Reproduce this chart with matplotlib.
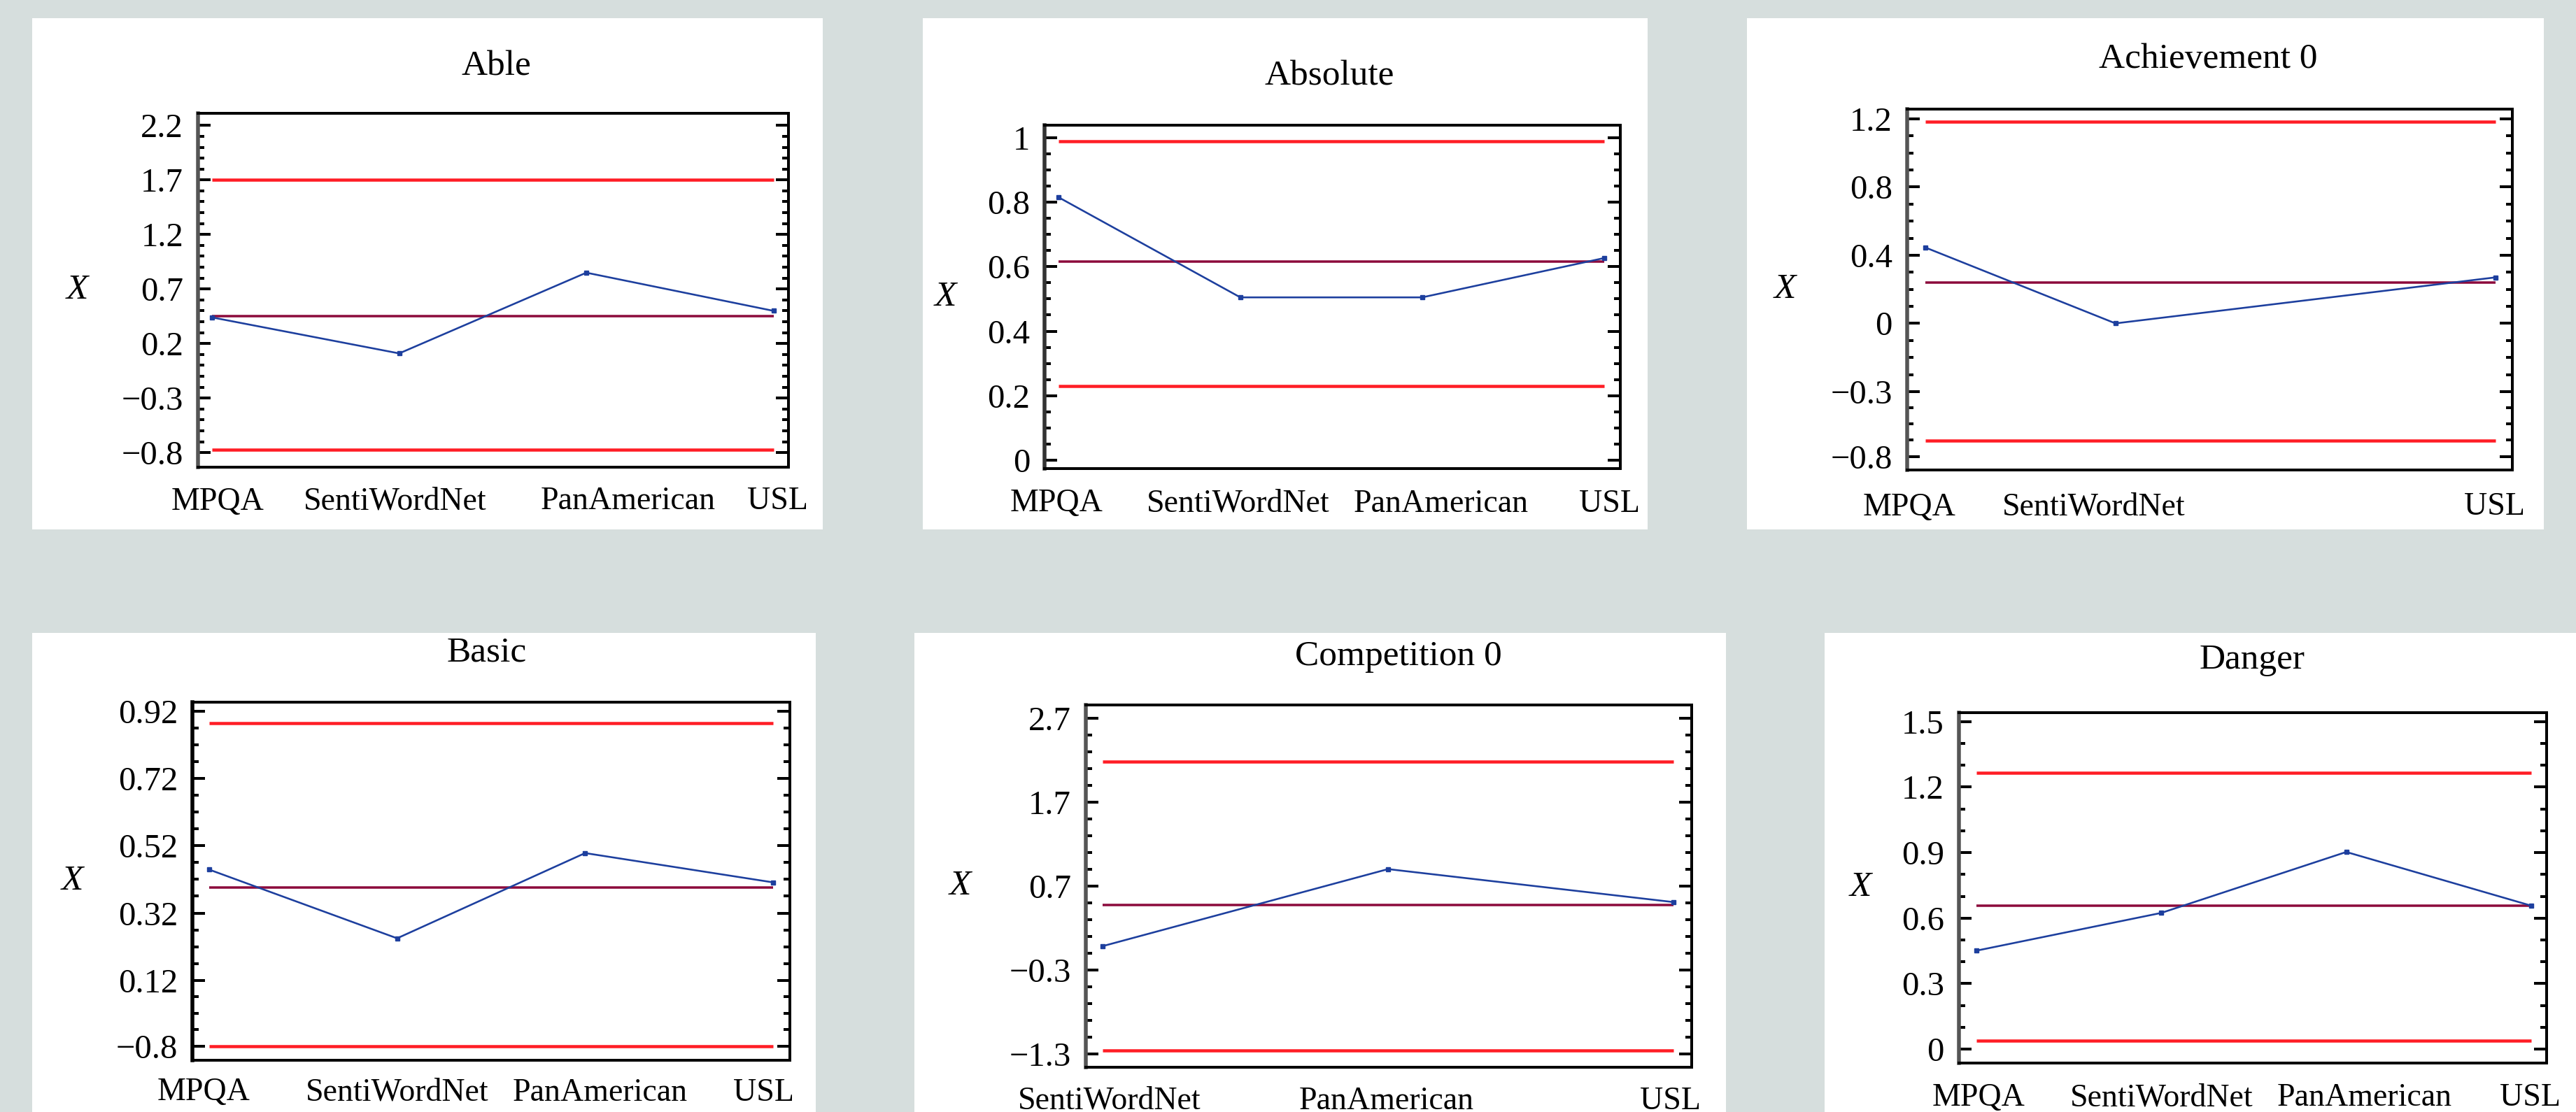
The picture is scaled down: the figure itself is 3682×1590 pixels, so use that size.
import numpy as np
import matplotlib
matplotlib.use("Agg")
import matplotlib.pyplot as plt
from matplotlib.patches import Rectangle
from matplotlib.ticker import FixedLocator, FixedFormatter

# ---------------- data ----------------
able_categories = ["MPQA", "SentiWordNet", "PanAmerican", "USL"]
able_values = [0.44, 0.11, 0.85, 0.50]
able_lower, able_centre, able_upper = -0.77, 0.452, 1.70
able_yticks = [2.2, 1.7, 1.2, 0.7, 0.2, -0.3, -0.8]
able_yticklabels = ["2.2", "1.7", "1.2", "0.7", "0.2", "\u22120.3", "\u22120.8"]

absolute_categories = ["MPQA", "SentiWordNet", "PanAmerican", "USL"]
absolute_values = [0.816, 0.505, 0.505, 0.627]
absolute_lower, absolute_centre, absolute_upper = 0.229, 0.616, 0.99
absolute_yticks = [1.0, 0.8, 0.6, 0.4, 0.2, 0.0]
absolute_yticklabels = ["1", "0.8", "0.6", "0.4", "0.2", "0"]

achievement_categories = ["MPQA", "SentiWordNet", "PanAmerican", "USL"]
achievement_values = [0.445, 0.0, np.nan, 0.27]
achievement_lower, achievement_centre, achievement_upper = -0.688, 0.238, 1.184
achievement_yticks = [1.2, 0.8, 0.4, 0.0, -0.4, -0.78]
achievement_yticklabels = ["1.2", "0.8", "0.4", "0", "\u22120.3", "\u22120.8"]

basic_categories = ["MPQA", "SentiWordNet", "PanAmerican", "USL"]
basic_values = [0.449, 0.245, 0.498, 0.411]
basic_lower, basic_centre, basic_upper = -0.075, 0.396, 0.883
basic_yticks = [0.92, 0.72, 0.52, 0.32, 0.12, -0.075]
basic_yticklabels = ["0.92", "0.72", "0.52", "0.32", "0.12", "\u22120.8"]

competition_categories = ["SentiWordNet", "PanAmerican", "USL"]
competition_values = [-0.018, 0.90, 0.507]
competition_lower, competition_centre, competition_upper = -1.259, 0.474, 2.179
competition_yticks = [2.7, 1.7, 0.7, -0.3, -1.3]
competition_yticklabels = ["2.7", "1.7", "0.7", "\u22120.3", "\u22121.3"]

danger_categories = ["MPQA", "SentiWordNet", "PanAmerican", "USL"]
danger_values = [0.451, 0.624, 0.903, 0.657]
danger_lower, danger_centre, danger_upper = 0.039, 0.658, 1.266
danger_yticks = [1.5, 1.2, 0.9, 0.6, 0.3, 0.0]
danger_yticklabels = ["1.5", "1.2", "0.9", "0.6", "0.3", "0"]

# ---------------- layout / style ----------------
W, H, DPI = 3682, 1590, 100
PT = 72.0 / DPI  # points per pixel

BG = "#d6dedd"
RED = "#ff1d25"
MAROON = "#8c0a3c"
BLUE = "#1d3f9e"

plt.rcParams["font.family"] = ["Liberation Serif", "DejaVu Serif"]

panels = [
    dict(title="Able", cats=able_categories, vals=able_values,
         lims=(able_lower, able_centre, able_upper),
         yt=able_yticks, ytl=able_yticklabels,
         white=(46, 26, 1176, 757), axes=(283, 162, 1127, 668),
         xlim=(0.925, 4.08), ylim=(-0.933, 2.311), nminor=4,
         offs=[8, -6, 60, 6], tpos=(709, 107), ylx=-0.204,
         lcol="#555555", xpad=28),
    dict(title="Absolute", cats=absolute_categories, vals=absolute_values,
         lims=(absolute_lower, absolute_centre, absolute_upper),
         yt=absolute_yticks, ytl=absolute_yticklabels,
         white=(1319, 26, 2355, 757), axes=(1493, 179, 2316, 670),
         xlim=(0.923, 4.09), ylim=(-0.027, 1.04), nminor=3,
         offs=[-3, -3, 27, 8], tpos=(1900, 122), ylx=-0.1725,
         lcol="#333333", xpad=29),
    dict(title="Achievement 0", cats=achievement_categories, vals=achievement_values,
         lims=(achievement_lower, achievement_centre, achievement_upper),
         yt=achievement_yticks, ytl=achievement_yticklabels,
         white=(2497, 26, 3636, 757), axes=(2726, 156, 3591, 672),
         xlim=(0.904, 4.088), ylim=(-0.86, 1.257), nminor=3,
         offs=[-23, -31, 0, -2], tpos=(3156, 97), ylx=-0.202,
         lcol="#555555", xpad=32),
    dict(title="Basic", cats=basic_categories, vals=basic_values,
         lims=(basic_lower, basic_centre, basic_upper),
         yt=basic_yticks, ytl=basic_yticklabels,
         white=(46, 905, 1166, 1590), axes=(275, 1003.5, 1129, 1516),
         xlim=(0.911, 4.089), ylim=(-0.117, 0.947), nminor=3,
         offs=[-8, 0, 21, -14], tpos=(696, 946), ylx=-0.201,
         lcol="black", xpad=25),
    dict(title="Competition 0", cats=competition_categories, vals=competition_values,
         lims=(competition_lower, competition_centre, competition_upper),
         yt=competition_yticks, ytl=competition_yticklabels,
         white=(1307, 905, 2467, 1590), axes=(1552, 1008, 2418, 1525.5),
         xlim=(0.941, 3.064), ylim=(-1.457, 2.856), nminor=4,
         offs=[10, -2, -4], tpos=(1999, 951), ylx=-0.207,
         lcol="#555555", xpad=28),
    dict(title="Danger", cats=danger_categories, vals=danger_values,
         lims=(danger_lower, danger_centre, danger_upper),
         yt=danger_yticks, ytl=danger_yticklabels,
         white=(2608, 905, 3682, 1590), axes=(2800, 1018.7, 3640, 1519.5),
         xlim=(0.906, 4.083), ylim=(-0.062, 1.542), nminor=2,
         offs=[3, 0, 26, -2], tpos=(3219, 956), ylx=-0.167,
         lcol="#555555", xpad=29),
]

fig = plt.figure(figsize=(W / DPI, H / DPI), dpi=DPI)
fig.patch.set_facecolor(BG)

for p in panels:
    # white card
    x0, y0, x1, y1 = p["white"]
    fig.add_artist(Rectangle((x0 / W, 1 - y1 / H), (x1 - x0) / W, (y1 - y0) / H,
                             transform=fig.transFigure, facecolor="white",
                             edgecolor="none", zorder=0))
    l, t, r, b = p["axes"]
    ax = fig.add_axes([l / W, 1 - b / H, (r - l) / W, (b - t) / H])
    ax.set_facecolor("white")

    vals = np.array(p["vals"], dtype=float)
    pos = np.arange(1, len(vals) + 1, dtype=float)
    ok = np.isfinite(vals)
    xs, ys = pos[ok], vals[ok]

    lo, ce, up = p["lims"]
    ax.hlines([up, lo], xs[0], xs[-1], colors=RED, linewidth=4.5 * PT, zorder=2)
    ax.hlines([ce], xs[0], xs[-1], colors=MAROON, linewidth=3.5 * PT, zorder=2)
    ax.plot(xs, ys, color=BLUE, linewidth=2.6 * PT, marker="s",
            markersize=6.5 * PT, zorder=3)

    ax.set_xlim(*p["xlim"])
    ax.set_ylim(*p["ylim"])

    # x tick labels (offset slightly from the points as in the original)
    px_per_unit = (r - l) / (p["xlim"][1] - p["xlim"][0])
    lab_pos = [x + o / px_per_unit for x, o in zip(pos, p["offs"])]
    keep = [i for i in range(len(vals)) if ok[i]]
    ax.set_xticks([lab_pos[i] for i in keep])
    ax.set_xticklabels([p["cats"][i] for i in keep], fontsize=33)
    ax.tick_params(axis="x", length=0, pad=p["xpad"] * PT)

    # y ticks
    yt = p["yt"]
    ax.yaxis.set_major_locator(FixedLocator(yt))
    ax.yaxis.set_major_formatter(FixedFormatter(p["ytl"]))
    minors = []
    n = p["nminor"]
    for a, c in zip(yt[:-1], yt[1:]):
        minors.extend(np.linspace(a, c, n + 2)[1:-1])
    ax.yaxis.set_minor_locator(FixedLocator(minors))
    ax.tick_params(axis="y", which="major", direction="in", left=True, right=True,
                   length=18 * PT, width=4 * PT, labelsize=35, pad=21 * PT)
    ax.tick_params(axis="y", which="minor", direction="in", left=True, right=True,
                   length=9 * PT, width=4 * PT)

    for side in ("top", "right", "bottom"):
        ax.spines[side].set_linewidth(4 * PT)
        ax.spines[side].set_color("black")
    ax.spines["left"].set_linewidth(5.5 * PT)
    ax.spines["left"].set_color(p["lcol"])

    ax.set_ylabel("X", rotation=0, fontstyle="italic", fontsize=37,
                  ha="center", va="center")
    ax.yaxis.set_label_coords(p["ylx"], 0.5)

    tx, ty = p["tpos"]
    fig.text(tx / W, 1 - ty / H, p["title"], ha="center", va="baseline",
             fontsize=37)

fig.savefig("out.png", dpi=DPI, facecolor=BG)
